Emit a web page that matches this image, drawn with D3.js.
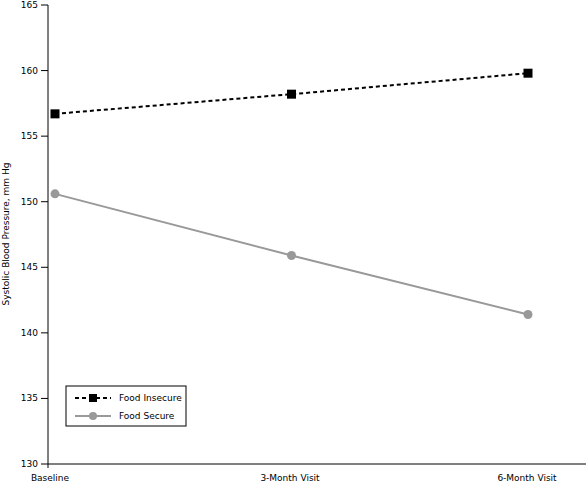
<!DOCTYPE html><html><head><meta charset="utf-8"><script src="https://cdn.jsdelivr.net/npm/d3@7"></script>
<style>body{margin:0;background:#fff}text{font-family:"DejaVu Sans",Verdana,sans-serif;font-size:9px;fill:#000}</style></head><body><svg width="586" height="486"></svg>
<script>
const categories=["Baseline","3-Month Visit","6-Month Visit"];
const foodInsecure=[156.7,158.2,159.8];
const foodSecure=[150.6,145.9,141.4];
const yTicks=[130,135,140,145,150,155,160,165];
const svg=d3.select("svg");
const x=d3.scaleLinear().domain([0,2]).range([55,528]);
const y=d3.scaleLinear().domain([130,165]).range([464,5]);
const X0=48;
svg.append("line").attr("x1",X0).attr("x2",X0).attr("y1",5).attr("y2",468).attr("stroke","#000");
svg.append("line").attr("x1",X0).attr("x2",586).attr("y1",464).attr("y2",464).attr("stroke","#000");
yTicks.forEach(t=>{svg.append("line").attr("x1",X0-7).attr("x2",X0).attr("y1",y(t)).attr("y2",y(t)).attr("stroke","#000");
svg.append("text").attr("x",X0-10).attr("y",y(t)+3).attr("text-anchor","end").text(t);});
const lx=[50,290,527];
categories.forEach((c,i)=>svg.append("text").attr("x",lx[i]).attr("y",481).attr("text-anchor","middle").text(c));
svg.append("text").attr("transform","translate(9,234) rotate(-90)").attr("text-anchor","middle").text("Systolic Blood Pressure, mm Hg");
const line=d3.line().x((d,i)=>x(i)).y(d=>y(d));
svg.append("path").attr("d",line(foodSecure)).attr("fill","none").attr("stroke","#999").attr("stroke-width",2);
foodSecure.forEach((d,i)=>svg.append("circle").attr("cx",x(i)).attr("cy",y(d)).attr("r",4.5).attr("fill","#999"));
svg.append("path").attr("d",line(foodInsecure)).attr("fill","none").attr("stroke","#000").attr("stroke-width",2).attr("stroke-dasharray","4,3");
foodInsecure.forEach((d,i)=>svg.append("rect").attr("x",x(i)-4.5).attr("y",y(d)-4.5).attr("width",9).attr("height",9).attr("fill","#000"));
const lg=svg.append("g").attr("transform","translate(66,386)");
lg.append("rect").attr("width",120).attr("height",40).attr("fill","#fff").attr("stroke","#000");
lg.append("line").attr("x1",9).attr("x2",45).attr("y1",12).attr("y2",12).attr("stroke","#000").attr("stroke-width",2).attr("stroke-dasharray","4,3");
lg.append("rect").attr("x",23).attr("y",8).attr("width",8).attr("height",8);
lg.append("text").attr("x",53).attr("y",15).text("Food Insecure");
lg.append("line").attr("x1",9).attr("x2",45).attr("y1",30).attr("y2",30).attr("stroke","#999").attr("stroke-width",2);
lg.append("circle").attr("cx",27).attr("cy",30).attr("r",4).attr("fill","#999");
lg.append("text").attr("x",53).attr("y",33).text("Food Secure");
</script></body></html>
